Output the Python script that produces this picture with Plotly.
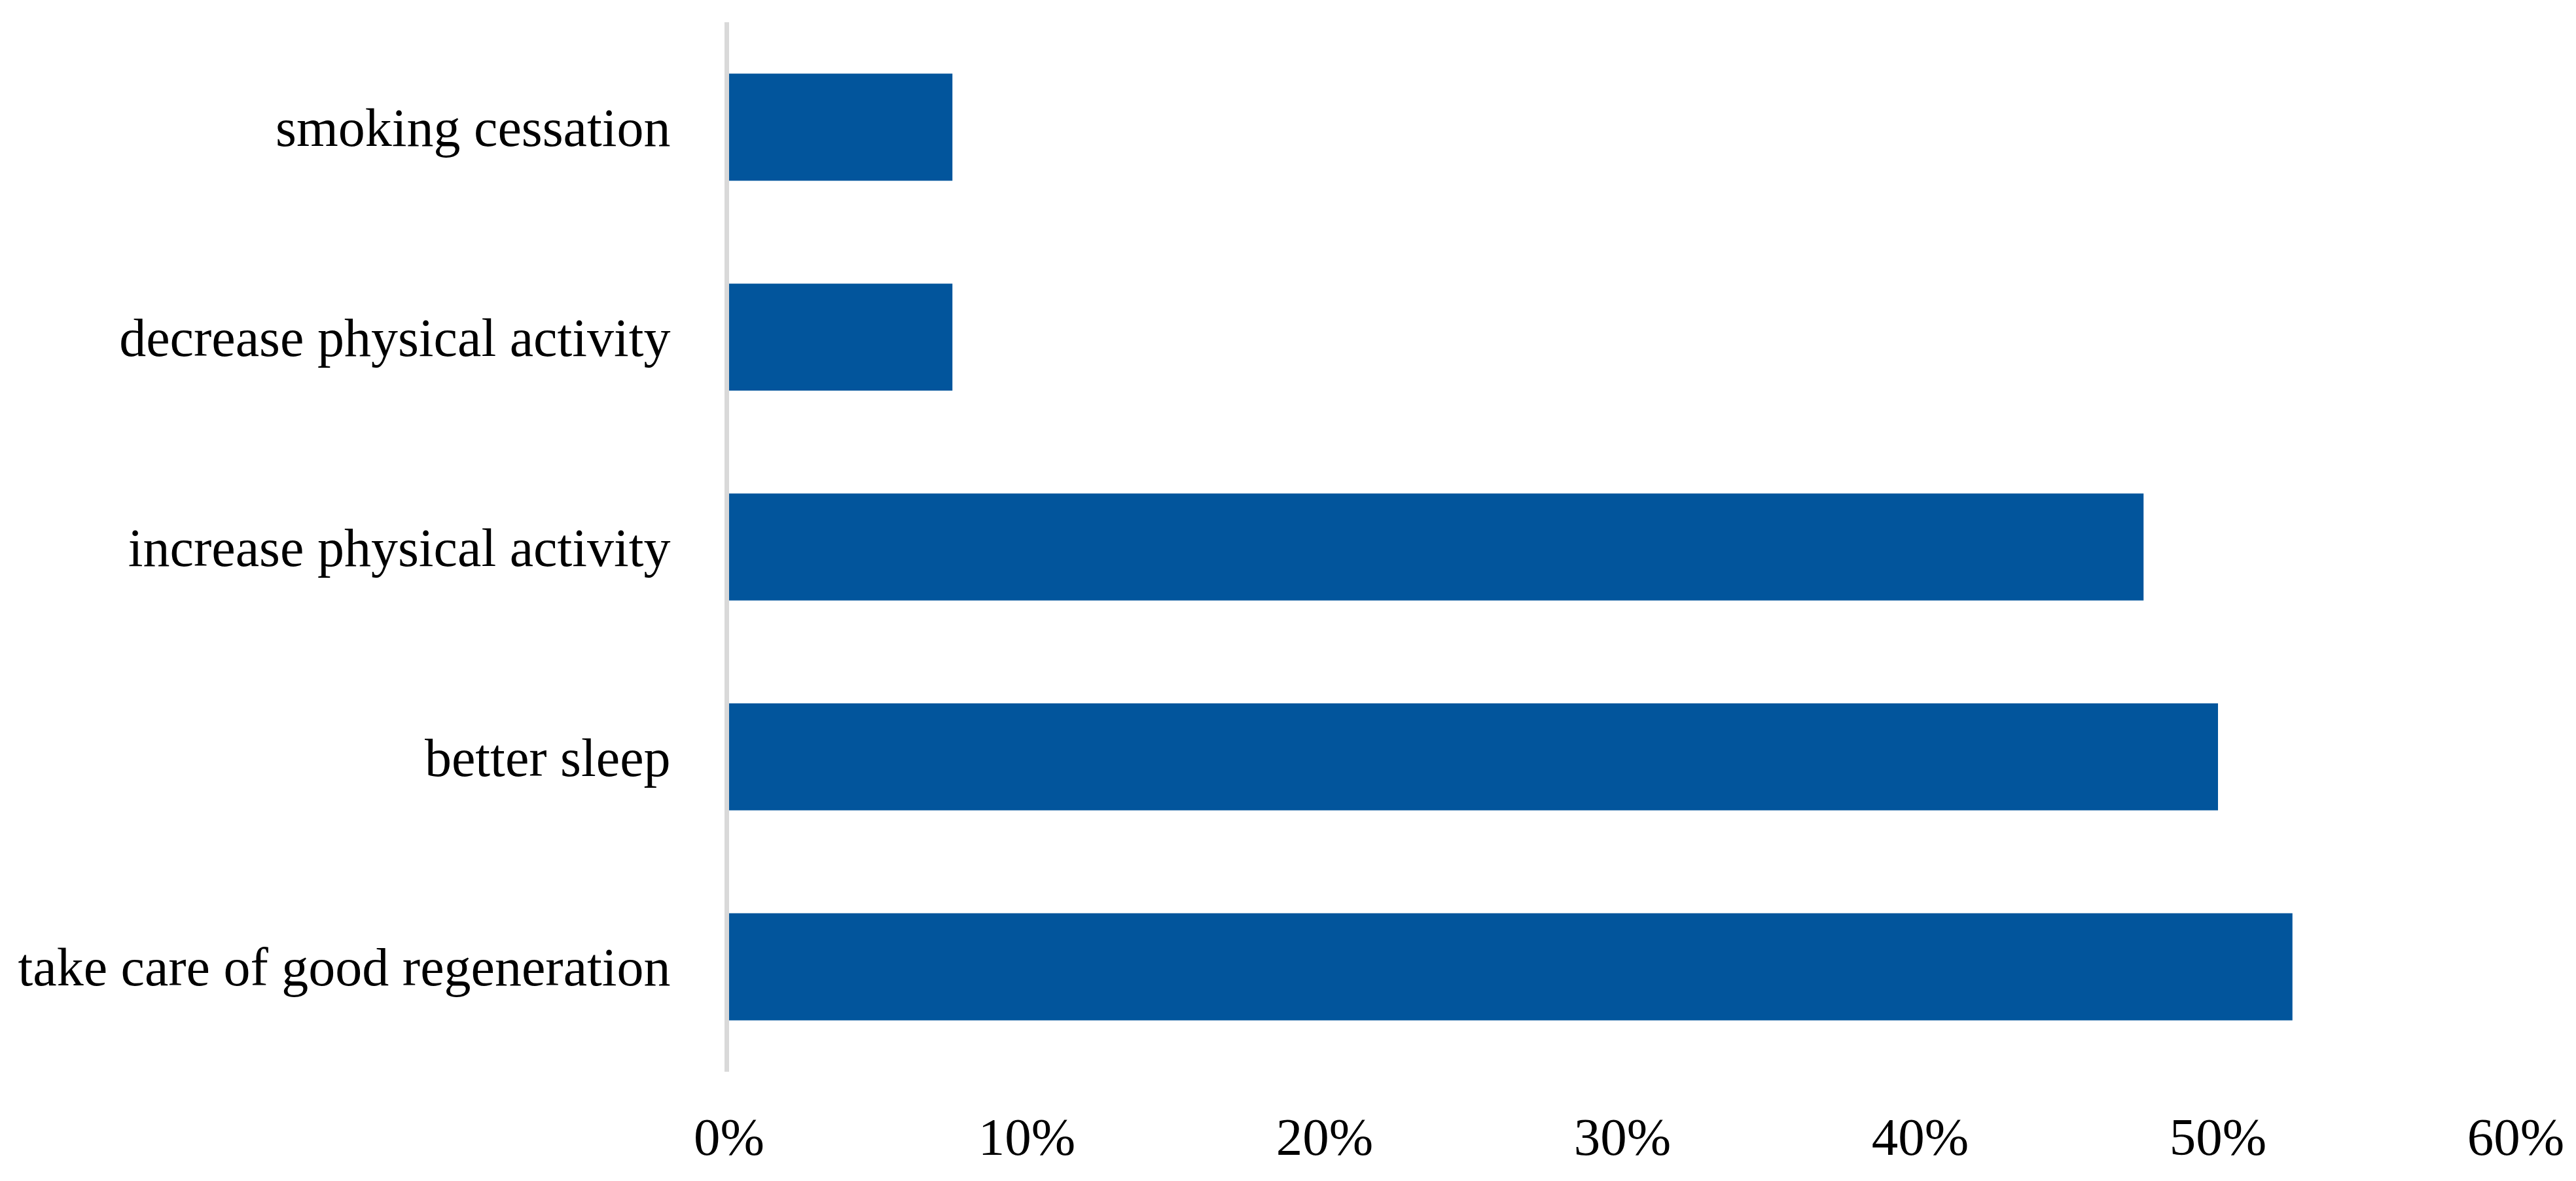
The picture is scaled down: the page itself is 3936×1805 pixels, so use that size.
import plotly.graph_objects as go

categories = [
    "smoking cessation",
    "decrease physical activity",
    "increase physical activity",
    "better sleep",
    "take care of good regeneration",
]
values = [0.075, 0.075, 0.475, 0.50, 0.525]
x_ticks = [0, 0.1, 0.2, 0.3, 0.4, 0.5, 0.6]
x_tick_labels = ["0%", "10%", "20%", "30%", "40%", "50%", "60%"]

fig = go.Figure(
    go.Bar(
        x=values,
        y=categories,
        orientation="h",
        marker=dict(color="#02559c", line=dict(width=0)),
        hoverinfo="x+y",
    )
)

fig.update_layout(
    width=3936,
    height=1805,
    margin=dict(l=1106, r=100, t=26, b=175),
    paper_bgcolor="white",
    plot_bgcolor="white",
    bargap=0.49,
    showlegend=False,
    font=dict(family="Liberation Serif, Times New Roman, serif", color="#000000", size=82),
)

fig.update_xaxes(
    range=[0, 0.6],
    tickvals=x_ticks,
    ticktext=x_tick_labels,
    showgrid=False,
    zeroline=False,
    showline=False,
    ticks="",
    tickfont=dict(size=81),
    ticklabelstandoff=45,
)

fig.update_yaxes(
    autorange="reversed",
    showgrid=False,
    zeroline=False,
    showline=True,
    linecolor="#d9d9d9",
    linewidth=7,
    ticks="",
    tickfont=dict(size=82),
    ticklabelstandoff=66,
)

fig.write_html("out.html")
